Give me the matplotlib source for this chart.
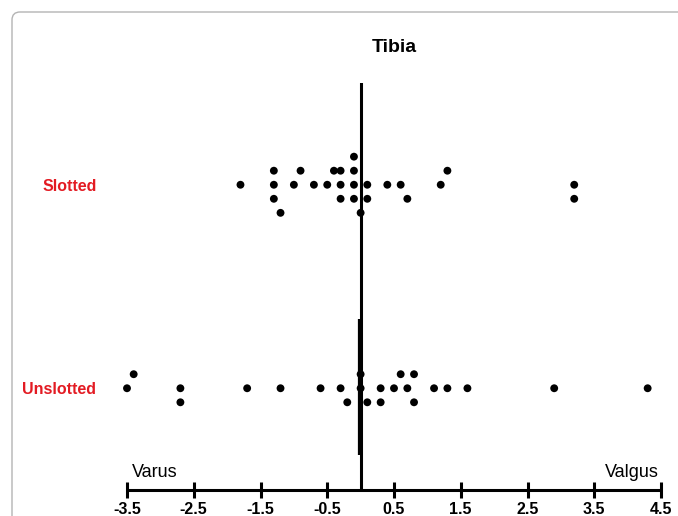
import matplotlib
matplotlib.use("Agg")
import matplotlib.pyplot as plt
import matplotlib.patches as mpatches
import matplotlib.transforms as mtransforms

plt.rcParams["font.family"] = ["Liberation Sans", "DejaVu Sans"]
plt.rcParams["axes.unicode_minus"] = False

# --- data (deformity, degrees) ---
groups = ["Unslotted", "Slotted"]

slotted_vals = [-1.8, -1.3, -1.3, -1.3, -1.2, -1.0, -0.9, -0.7, -0.5, -0.4,
                -0.3, -0.3, -0.3, -0.1, -0.1, -0.1, -0.1, 0.0, 0.1, 0.1,
                0.4, 0.6, 0.7, 1.2, 1.3, 3.2, 3.2]
# stacking row of each dot in the scatter (as drawn by the original software)
slotted_stack = [0, 1, 0, -1, -2, 0, 1, 0, 0, 1,
                 1, 0, -1, 2, 1, 0, -1, -2, 0, -1,
                 0, 0, -1, 0, 1, 0, -1]

unslotted_vals = [-3.5, -3.4, -2.7, -2.7, -1.7, -1.2, -0.6, -0.3, -0.2, 0.0,
                  0.0, 0.1, 0.3, 0.3, 0.5, 0.6, 0.7, 0.8, 0.8, 1.1,
                  1.3, 1.6, 2.9, 4.3]
unslotted_stack = [0, 1, 0, -1, 0, 0, 0, 0, -1, 1,
                   0, -1, 0, -1, 0, 1, 0, 1, -1, 0,
                   0, 0, 0, 0]

xticks = [-3.5, -2.5, -1.5, -0.5, 0.5, 1.5, 2.5, 3.5, 4.5]
xticklabels = ["-3.5", "-2.5", "-1.5", "-0.5", "0.5", "1.5", "2.5", "3.5", "4.5"]


def main():
    fig = plt.figure(figsize=(6.78, 5.16), dpi=100)
    ax = fig.add_axes([127 / 678, 26 / 516, 534 / 678, 407 / 516])

    step = 0.069  # vertical distance between stacked dots
    red = "#e31b23"

    # zero reference line
    ax.axvline(0, color="black", lw=2.2, zorder=2)
    ax.vlines(-0.028, -0.33, 0.34, color="black", lw=1.6, zorder=2)

    for gi, (vals, stack) in enumerate([(unslotted_vals, unslotted_stack),
                                        (slotted_vals, slotted_stack)]):
        ys = [gi + s * step for s in stack]
        ax.scatter(vals, ys, s=32, color="black", edgecolors="none",
                   zorder=3, clip_on=False)

    ax.set_xlim(-3.5, 4.5)
    ax.set_ylim(-0.5, 1.5)

    for side in ["top", "right", "left"]:
        ax.spines[side].set_visible(False)
    ax.spines["bottom"].set_linewidth(2.2)
    ax.spines["bottom"].set_capstyle("butt")

    ax.set_xticks(xticks)
    ax.set_xticklabels(xticklabels, fontsize=11.5, fontweight="bold")
    ax.tick_params(axis="x", direction="inout", length=11, width=2.2, pad=3.5)

    ax.set_yticks([0, 1])
    ax.set_yticklabels(groups, fontsize=11.5, fontweight="bold", color=red)
    ax.tick_params(axis="y", length=0, pad=22)

    ax.text(0.5, 1.086, "Tibia", transform=ax.transAxes, ha="center",
            va="center", fontsize=14, fontweight="bold")

    trans = mtransforms.blended_transform_factory(ax.transData, ax.transAxes)
    ax.text(-3.43, 0.042, "Varus", transform=trans, ha="left", va="center",
            fontsize=13)
    ax.text(4.47, 0.042, "Valgus", transform=trans, ha="right", va="center",
            fontsize=13)

    # light frame around the panel
    frame = mpatches.FancyBboxPatch((12, -30), 720, 534,
                                    boxstyle="round,pad=0,rounding_size=8",
                                    transform=mtransforms.IdentityTransform(),
                                    fill=False, edgecolor="#b4b4b4", lw=1.0)
    fig.add_artist(frame)

    fig.savefig("out.png", dpi=100)


if __name__ == "__main__":
    main()
